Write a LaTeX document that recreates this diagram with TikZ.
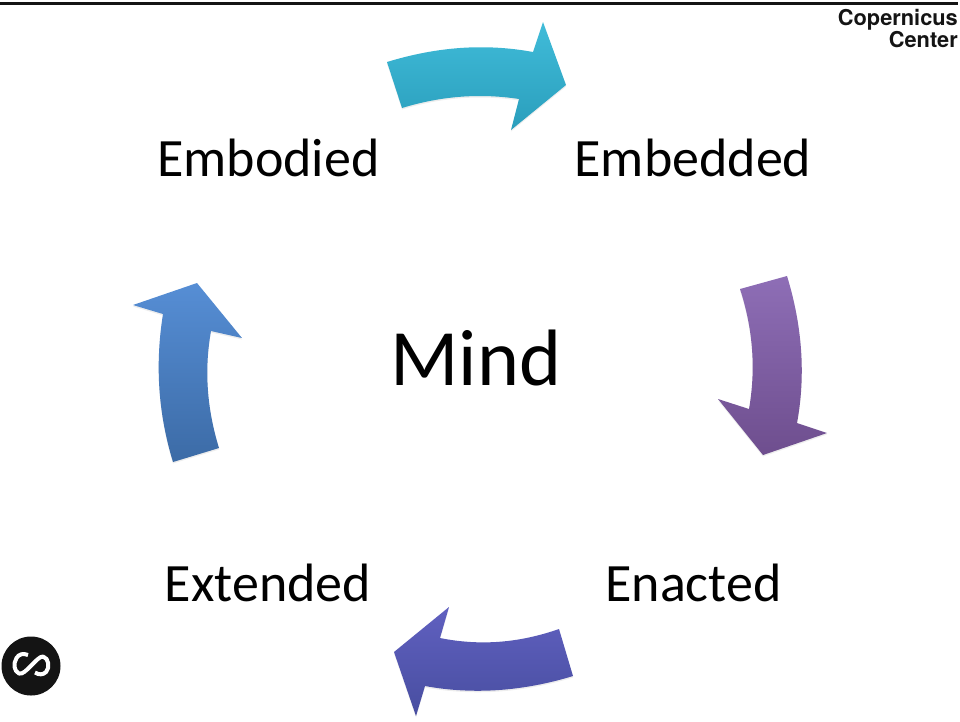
\documentclass[tikz,border=0pt]{standalone}
\usepackage{fontspec}
\usepackage{tikz}
\usetikzlibrary{shadows}
\setmainfont{Carlito}
\newfontfamily\logofont{TeX Gyre Heros}[BoldFont=* Bold]

\tikzset{
	label text/.style = {font=\fontsize{54}{54}\selectfont, text=black, inner sep=0pt},
	flow arrow/.style = {draw=none, drop shadow={opacity=.14, shadow xshift=0pt, shadow yshift=-1.5pt}}
}

\begin{document}
\begin{tikzpicture}[x=1pt, y=-1pt]
		\useasboundingbox (0,0) rectangle (960,721);
		\fill[black!92] (0,2) rectangle (958,4.5);
		\node[anchor=north east, align=right, inner sep=0pt, font=\logofont\bfseries\fontsize{21.8}{18.5}\selectfont, text=black!92] (logo) at (958,9.5) {Copernicus\\Center};

		% labels
		\node[label text] (embodied) at (268.5,158) {Embodied};
		\node[label text] (embedded) at (693,158) {Embedded};
		\node[label text] (extended) at (268,583) {Extended};
		\node[label text] (enacted) at (693.5,583) {Enacted};
		\node[label text, font=\fontsize{80}{80}\selectfont] (mind) at (476,358) {Mind};

		% arrows
		\path[flow arrow, top color={rgb,255:red,64;green,188;blue,217}, bottom color={rgb,255:red,42;green,158;blue,188}]
			(387,62) .. controls (436,47) and (484,43) .. (533,52) -- (543,22) -- (566,85) -- (511,130) -- (519,99)
			.. controls (480,93) and (441,96) .. (402,108) -- cycle;
		\path[flow arrow, top color={rgb,255:red,142;green,110;blue,182}, bottom color={rgb,255:red,110;green,78;blue,142}]
			(787,276) .. controls (802,325) and (806,374) .. (797,423) -- (827,433) -- (763,455) -- (718,399) -- (749,409)
			.. controls (756,369) and (753,329) .. (740,289) -- cycle;
		\path[flow arrow, top color={rgb,255:red,96;green,96;blue,192}, bottom color={rgb,255:red,72;green,78;blue,160}]
			(573,676) .. controls (524,691) and (474,695) .. (425,686) -- (416,716) -- (394,652) -- (449,607) -- (440,638)
			.. controls (480,646) and (519,643) .. (559,629) -- cycle;
		\path[flow arrow, top color={rgb,255:red,86;green,142;blue,213}, bottom color={rgb,255:red,60;green,107;blue,166}]
			(173,462) .. controls (158,413) and (155,364) .. (163,314) -- (133,305) -- (197,283) -- (242,338) -- (211,331)
			.. controls (204,370) and (207,409) .. (219,448) -- cycle;

		% round badge
		\fill[black!92] (31,666) circle (29.5);
		\draw[white, line width=4pt, line join=round]
			(28,655) .. controls (23,653) and (19,654) .. (16.5,658)
			.. controls (13,664) and (14,671) .. (19,673.5)
			.. controls (25,676) and (37,656) .. (43,656.5)
			.. controls (49,658) and (50,668) .. (46,672)
			.. controls (43,675) and (39,675) .. (35,672.5);
\end{tikzpicture}
\end{document}
